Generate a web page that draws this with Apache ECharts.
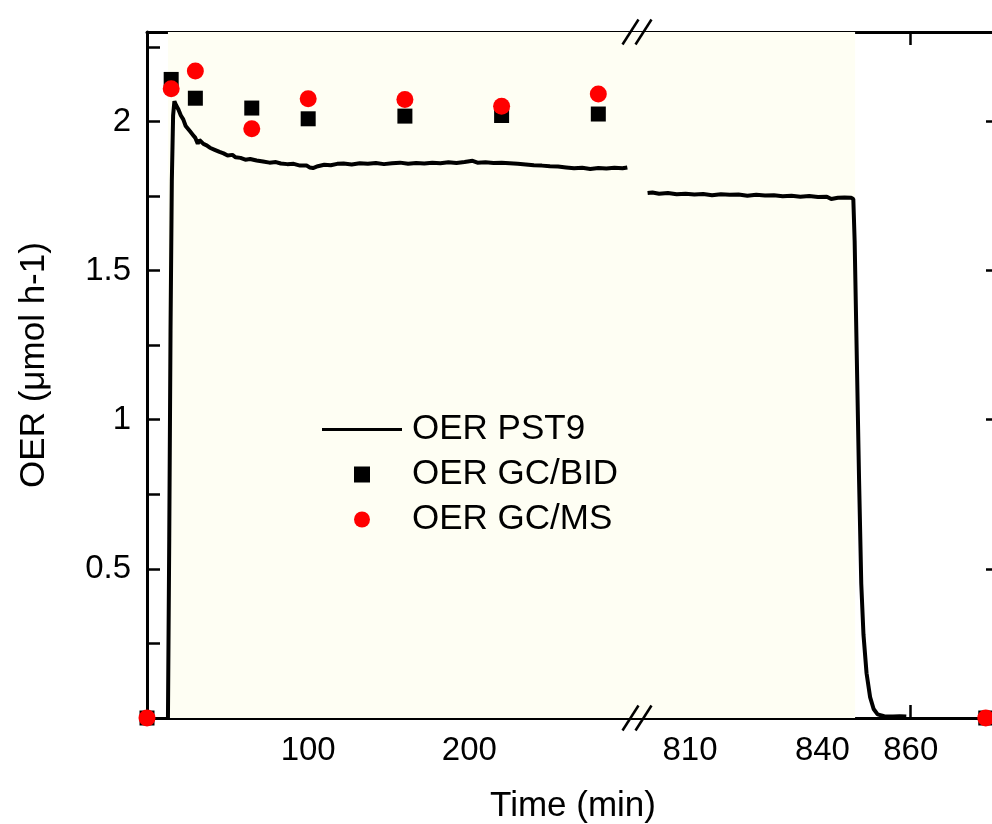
<!DOCTYPE html>
<html><head><meta charset="utf-8">
<script src="https://cdn.jsdelivr.net/npm/echarts@6/dist/echarts.min.js"></script>
<style>html,body{margin:0;padding:0;background:#fff}#c{width:992px;height:824px}</style>
</head><body><div id="c"></div>
<script>
// ---- data ----
const pstLeftTimes = [13.0,13.8,14.6,15.4,16.2,17.0,18.0,19.5,21.0,22.5,24.0,25.0,26.7,28.5,30.0,31.5,32.5,35.0,37.0,39.0,42.0,45.0,47.5,50.0,53.0,55.0,58.0,61.0,64.0,68.0,72.0,76.0,80.0,83.0,87.0,91.0,95.0,99.0,101.0,103.0,106.0,110.0,114.0,118.0,122.0,127.0,132.0,137.0,142.0,147.0,152.0,157.0,162.0,167.0,172.0,177.0,182.0,187.0,192.0,197.0,202.0,205.0,210.0,215.0,220.0,225.0,230.0,235.0,240.0,245.0,250.0,255.0,260.0,265.0,270.0,275.0,280.0,285.0,290.0,295.0,298.0];
const pstLeftValues = [0,0.60,1.30,1.80,2.02,2.068,2.055,2.040,2.020,2.007,1.985,1.990,1.967,1.955,1.945,1.925,1.938,1.925,1.920,1.912,1.905,1.898,1.893,1.886,1.888,1.880,1.878,1.872,1.874,1.869,1.866,1.862,1.864,1.859,1.857,1.858,1.852,1.852,1.846,1.844,1.850,1.855,1.853,1.858,1.859,1.856,1.860,1.858,1.861,1.857,1.860,1.862,1.858,1.861,1.859,1.862,1.860,1.863,1.861,1.864,1.868,1.862,1.863,1.861,1.862,1.860,1.858,1.856,1.853,1.852,1.850,1.849,1.846,1.843,1.845,1.841,1.844,1.842,1.845,1.843,1.846];
const pstRightTimes = [800.4,801.5,803,805,807,809,811,813,815,817,819,821,823,825,827,829,831,833,835,837,839,841,842,843.5,845,846.5,847.0,847.3,847.8,848.3,848.8,849.3,850.0,850.8,851.6,852.5,854,856,857.5,859];
const pstRightValues = [1.760,1.762,1.758,1.760,1.756,1.758,1.755,1.757,1.753,1.756,1.754,1.755,1.751,1.754,1.752,1.753,1.749,1.751,1.748,1.750,1.747,1.748,1.740,1.744,1.745,1.744,1.740,1.600,1.200,0.800,0.450,0.280,0.150,0.070,0.030,0.012,0.006,0.005,0.006,0.005];
const gcTimes = [0,15,30,65,100,160,220,280,877];
const gcBidValues = [0,2.141,2.078,2.045,2.009,2.018,2.020,2.025,0];
const gcMsValues = [0,2.110,2.169,1.976,2.076,2.074,2.051,2.092,0];
const xTicksLeft = [100,200];
const xTicksRight = [810,840,860];
const yTicks = [0.25,0.5,0.75,1,1.25,1.5,1.75,2,2.25];
const yLabels = [0.5,1,1.5,2];
const leftRange = [0,304];
const rightRange = [798,880];
const yRange = [0,2.3];
const lightPeriod = [13,847.4];

// ---- build ----
const FONT = 'Liberation Sans';
const zip = (a,b) => a.map((t,i)=>[t,b[i]]);
const inLeft = t => t <= leftRange[1];
const gcSplit = (vals, left) => gcTimes.map((t,i)=>[t,vals[i]]).filter(p => left ? inLeft(p[0]) : !inLeft(p[0]));

const mkAxisLine = () => ({show:true, lineStyle:{color:'#000', width:3}});
const mkTick = (vals) => ({show:true, inside:true, length:13, lineStyle:{color:'#000',width:2.5}, customValues:vals});
function xAxis(grid, range, ticks, pos, labels){
  return {type:'value', gridIndex:grid, min:range[0], max:range[1], position:pos,
    axisLine:mkAxisLine(), splitLine:{show:false}, axisTick:mkTick(ticks),
    axisLabel:{show:labels, customValues:ticks, fontSize:33, color:'#000', fontFamily:FONT, margin:16}};
}
const sq = 'path://M0,0H10V10H0Z';
const lineIcon = 'path://M0,0H80V3H0Z';
const chart = echarts.init(document.getElementById('c'), null, {renderer:'canvas'});
const option = {
  backgroundColor:'#fff',
  animation:false,
  grid:[
    {left:147, top:32, width:490, height:686, outerBoundsMode:'none', containLabel:false},
    {left:637, top:32, width:362, height:686, outerBoundsMode:'none', containLabel:false}
  ],
  xAxis:[
    xAxis(0, leftRange, xTicksLeft, 'bottom', true),
    xAxis(1, rightRange, xTicksRight, 'bottom', true),
    xAxis(0, leftRange, xTicksLeft, 'top', false),
    xAxis(1, rightRange, xTicksRight, 'top', false)
  ],
  yAxis:[
    {type:'value', gridIndex:0, min:yRange[0], max:yRange[1], position:'left', axisLine:mkAxisLine(), splitLine:{show:false},
     axisTick:mkTick(yTicks),
     axisLabel:{customValues:yLabels, fontSize:33, color:'#000', fontFamily:FONT, margin:16},
     name:'OER (μmol h-1)', nameLocation:'middle', nameGap:95,
     nameTextStyle:{fontSize:35, color:'#000', fontFamily:FONT, padding:[0,0,0,20]}},
    {type:'value', gridIndex:1, min:yRange[0], max:yRange[1], position:'right', axisLine:mkAxisLine(), splitLine:{show:false},
     axisTick:mkTick(yLabels), axisLabel:{show:false}}
  ],
  legend:{
    orient:'vertical', left:317, top:407, itemWidth:80, itemHeight:16, itemGap:10,
    textStyle:{fontSize:35, color:'#000', fontFamily:FONT, padding:[0,0,0,5]},
    data:[{name:'OER PST9', icon:lineIcon},{name:'OER GC/BID', icon:sq},{name:'OER GC/MS', icon:'circle'}]
  },
  series:[
    {name:'OER PST9', type:'line', xAxisIndex:0, yAxisIndex:0, data:zip(pstLeftTimes,pstLeftValues),
     symbol:'none', lineStyle:{color:'#000', width:4}, itemStyle:{color:'#000'}, z:2,
     markArea:{silent:true, itemStyle:{color:'#fefef3'}, data:[[{xAxis:lightPeriod[0], yAxis:yRange[0]},{xAxis:leftRange[1], yAxis:yRange[1]}]]}},
    {name:'OER PST9', type:'line', xAxisIndex:1, yAxisIndex:1, data:zip(pstRightTimes,pstRightValues),
     symbol:'none', lineStyle:{color:'#000', width:4}, itemStyle:{color:'#000'}, z:2,
     markArea:{silent:true, itemStyle:{color:'#fefef3'}, data:[[{xAxis:rightRange[0], yAxis:yRange[0]},{xAxis:lightPeriod[1], yAxis:yRange[1]}]]}},
    {name:'OER GC/BID', type:'scatter', xAxisIndex:0, yAxisIndex:0, data:gcSplit(gcBidValues,true), symbol:'rect', symbolSize:15, itemStyle:{color:'#000', opacity:1}, clip:false, z:3},
    {name:'OER GC/BID', type:'scatter', xAxisIndex:1, yAxisIndex:1, data:gcSplit(gcBidValues,false), symbol:'rect', symbolSize:15, itemStyle:{color:'#000', opacity:1}, clip:false, z:3},
    {name:'OER GC/MS', type:'scatter', xAxisIndex:0, yAxisIndex:0, data:gcSplit(gcMsValues,true), symbol:'circle', symbolSize:17, itemStyle:{color:'#ff0000', opacity:1}, clip:false, z:4},
    {name:'OER GC/MS', type:'scatter', xAxisIndex:1, yAxisIndex:1, data:gcSplit(gcMsValues,false), symbol:'circle', symbolSize:17, itemStyle:{color:'#ff0000', opacity:1}, clip:false, z:4}
  ]
};
chart.setOption(option);

// break marks and the shared x-axis title, placed from the axes' own pixel mapping
const xb = chart.convertToPixel({xAxisIndex:0}, leftRange[1]);
const yTop = chart.convertToPixel({yAxisIndex:0}, yRange[1]);
const yBot = chart.convertToPixel({yAxisIndex:0}, yRange[0]);
const xL = chart.convertToPixel({xAxisIndex:0}, leftRange[0]);
const xR = chart.convertToPixel({xAxisIndex:1}, rightRange[1]);
const g = [];
[yTop, yBot].forEach(y => {
  [-6.5, 6.5].forEach(d => {
    g.push({type:'line', z:100, shape:{x1:xb+d-8, y1:y+12.5, x2:xb+d+8, y2:y-12.5}, style:{stroke:'#000', lineWidth:2.5}});
  });
});
g.push({type:'text', z:100, x:(xL+xR)/2, y:yBot+88, style:{text:'Time (min)', font:'35px "Liberation Sans"', fill:'#000', align:'center', verticalAlign:'middle'}});
chart.setOption({graphic:g});
</script></body></html>
